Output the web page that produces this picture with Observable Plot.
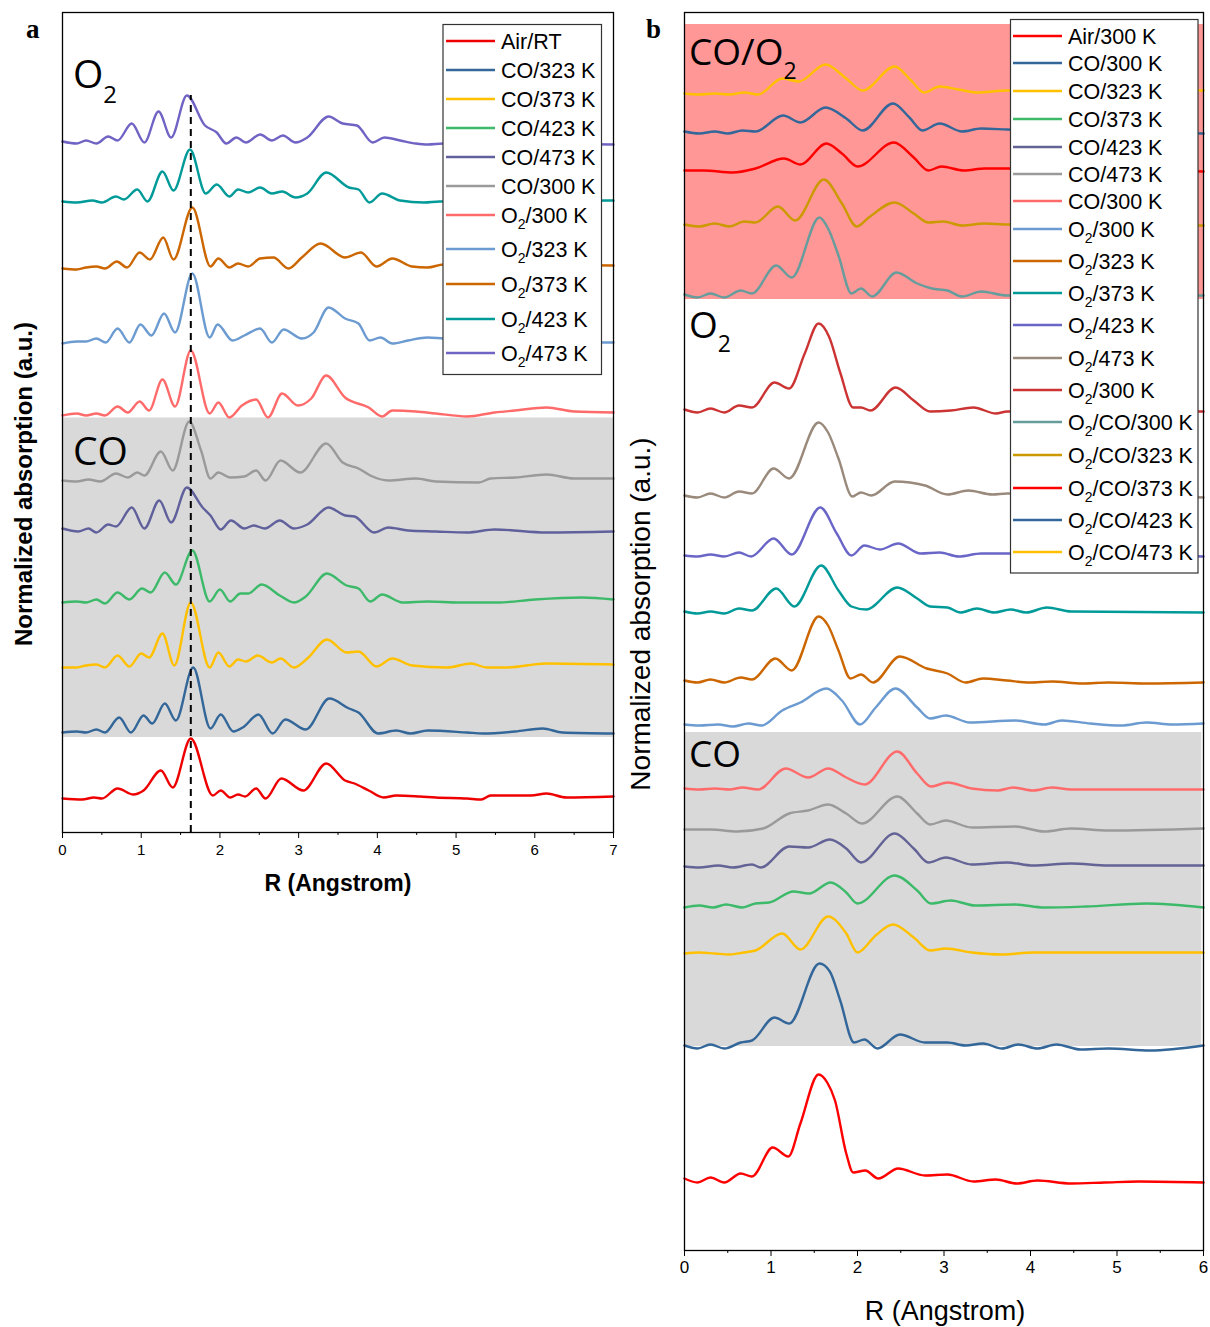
<!DOCTYPE html>
<html><head><meta charset="utf-8">
<script src="https://cdn.jsdelivr.net/npm/d3@7"></script>
<script src="https://cdn.jsdelivr.net/npm/@observablehq/plot@0.6"></script>
<style>
body{margin:0;background:#fff;}
#page{position:relative;width:1210px;height:1327px;overflow:hidden;background:#fff;}
#page svg{position:absolute;top:0;}
</style></head><body><div id="page"></div>
<script>
// ---------- Panel a data (R in Å, normalized absorption a.u.) ----------
const aAirRT = [[0,34],[0.25,33],[0.40,35],[0.50,34],[0.70,44],[0.90,38],[1.03,42],[1.25,62],[1.40,45],[1.63,94],[1.91,37],[2.01,42],[2.13,35],[2.23,38],[2.32,36],[2.46,44],[2.58,34],[2.78,54],[3.06,42],[3.35,69],[3.59,52],[3.71,49],[3.89,42],[4.08,35],[4.24,37],[4.54,36],[4.74,35],[5.14,34],[5.32,33],[5.44,37],[5.95,37],[6.15,39],[6.40,35],[7,36]];
const aCO323 = [[0,100],[0.18,101],[0.30,100],[0.43,103],[0.54,100],[0.72,115],[0.87,100],[1.03,117],[1.14,109],[1.30,129],[1.44,112],[1.66,165],[1.88,104],[2.01,118],[2.17,101],[2.29,105],[2.49,118],[2.67,99],[2.83,113],[3.09,103],[3.39,134],[3.64,124],[3.76,120],[4.01,99],[4.24,102],[4.42,99],[4.64,102],[5.14,100],[5.34,99],[5.75,101],[6.10,104],[6.35,100],[7,99]];
const aCO373 = [[0,165],[0.18,165],[0.30,167],[0.43,168],[0.54,165],[0.70,177],[0.85,166],[1.00,179],[1.10,175],[1.27,199],[1.42,167],[1.63,230],[1.87,165],[1.98,180],[2.12,166],[2.23,173],[2.33,171],[2.48,177],[2.66,170],[2.77,174],[2.94,165],[3.11,174],[3.36,193],[3.61,180],[3.76,181],[3.99,166],[4.19,174],[4.44,167],[4.89,165],[5.19,169],[5.39,165],[5.64,165],[6.15,169],[7,168]];
const aCO423 = [[0,230],[0.18,231],[0.30,230],[0.43,233],[0.54,229],[0.70,240],[0.85,233],[1.01,244],[1.12,240],[1.30,260],[1.44,248],[1.65,282],[1.87,231],[2.00,243],[2.13,231],[2.26,239],[2.36,239],[2.53,248],[2.76,237],[2.94,230],[3.09,236],[3.36,259],[3.61,247],[3.76,244],[3.91,231],[4.06,238],[4.32,230],[4.64,231],[5.04,230],[5.54,230],[6.00,233],[6.60,235],[7,233]];
const aCO473 = [[0,304],[0.20,301],[0.33,304],[0.43,300],[0.58,308],[0.68,306],[0.88,325],[1.04,304],[1.23,332],[1.38,310],[1.58,345],[1.78,325],[1.88,317],[2.01,303],[2.14,312],[2.31,304],[2.43,307],[2.57,304],[2.76,312],[2.94,304],[3.11,308],[3.38,325],[3.59,317],[3.71,316],[3.96,300],[4.14,305],[4.39,302],[4.74,301],[5.14,300],[5.49,303],[6.15,300],[7,301]];
const aCO300 = [[0,352],[0.18,351],[0.33,353],[0.48,351],[0.68,359],[0.83,355],[0.95,360],[1.04,357],[1.25,381],[1.40,362],[1.61,411],[1.76,382],[1.88,354],[1.98,360],[2.13,355],[2.31,356],[2.46,362],[2.58,352],[2.77,372],[3.02,360],[3.35,389],[3.56,370],[3.76,364],[3.91,357],[4.14,352],[4.49,354],[4.74,351],[5.29,350],[5.44,354],[5.75,355],[6.15,358],[6.50,354],[7,354]];
const aO2300 = [[0,417],[0.18,419],[0.30,417],[0.43,419],[0.54,417],[0.70,426],[0.83,420],[0.98,431],[1.10,422],[1.27,453],[1.43,426],[1.63,482],[1.87,419],[1.98,430],[2.12,415],[2.28,427],[2.46,433],[2.61,415],[2.79,439],[2.99,427],[3.16,434],[3.35,457],[3.59,435],[3.89,425],[4.06,416],[4.19,422],[4.49,421],[4.74,419],[5.14,416],[5.49,420],[5.75,422],[6.15,425],[6.50,421],[7,420]];
const aO2323 = [[0,489],[0.18,491],[0.30,491],[0.43,494],[0.55,490],[0.70,504],[0.85,490],[0.99,508],[1.13,497],[1.29,519],[1.43,500],[1.65,559],[1.87,495],[1.97,508],[2.16,492],[2.31,497],[2.51,504],[2.66,490],[2.81,503],[3.04,494],[3.19,500],[3.38,525],[3.59,514],[3.76,509],[3.90,492],[4.04,495],[4.19,489],[4.39,492],[4.64,495],[4.84,494],[7,490]];
const aO2373 = [[0,564],[0.18,563],[0.30,565],[0.43,566],[0.54,564],[0.69,571],[0.82,565],[0.98,580],[1.11,573],[1.28,595],[1.41,573],[1.65,625],[1.88,566],[1.98,574],[2.12,565],[2.23,569],[2.36,566],[2.51,574],[2.68,575],[2.87,564],[3.04,575],[3.28,589],[3.59,575],[3.79,580],[3.99,566],[4.19,574],[4.44,566],[4.64,565],[4.84,568],[7,567]];
const aO2423 = [[0,631],[0.18,630],[0.38,632],[0.50,630],[0.68,636],[0.78,633],[0.95,643],[1.08,631],[1.27,661],[1.41,642],[1.62,683],[1.82,639],[1.96,648],[2.12,636],[2.23,643],[2.36,640],[2.51,645],[2.66,639],[2.79,641],[2.96,635],[3.11,639],[3.35,660],[3.64,645],[3.76,643],[3.90,630],[4.06,639],[4.29,632],[4.59,630],[4.79,631],[7,632]];
const aO2473 = [[0,691],[0.18,689],[0.30,692],[0.43,689],[0.58,696],[0.70,692],[0.88,709],[1.04,690],[1.22,721],[1.38,695],[1.58,737],[1.81,707],[1.96,700],[2.08,689],[2.21,695],[2.33,690],[2.51,698],[2.66,692],[2.80,697],[2.96,690],[3.11,695],[3.38,716],[3.56,709],[3.74,707],[3.94,690],[4.09,695],[4.29,692],[4.49,689],[4.64,688],[4.84,689],[7,688]];

const legendA = ["Air/RT","CO/323 K","CO/373 K","CO/423 K","CO/473 K","CO/300 K","O2/300 K","O2/323 K","O2/373 K","O2/423 K","O2/473 K"];
const seriesA = [aAirRT,aCO323,aCO373,aCO423,aCO473,aCO300,aO2300,aO2323,aO2373,aO2423,aO2473];
const refLineA = [{x:1.63, y1:0, y2:737}];
const shadeA = [{x1:0, x2:7, y1:95, y2:414.5}];
const ticksA = [0,1,2,3,4,5,6,7];
const minorTicksA = [0.5,1.5,2.5,3.5,4.5,5.5,6.5];

// ---------- Panel b data ----------
const bAir300 = [[0,72],[0.15,68],[0.30,73],[0.46,68],[0.65,77],[0.78,74],[1.02,103],[1.20,94],[1.34,127],[1.55,176],[1.65,168],[1.74,150],[1.87,97],[1.95,78],[2.09,80],[2.24,72],[2.47,82],[2.78,75],[3.04,76],[3.34,69],[3.60,71],[3.84,67],[4.08,70],[4.47,67],[4.86,68],[5.25,69],[6,68]];
const bCO300 = [[0,205],[0.15,202],[0.30,206],[0.46,202],[0.65,208],[0.78,210],[1.04,233],[1.21,227],[1.56,287],[1.68,279],[1.80,250],[1.96,208],[2.08,211],[2.23,202],[2.49,216],[2.78,208],[3.04,208],[3.25,205],[3.45,207],[3.67,202],[3.86,206],[4.08,202],[4.30,206],[4.58,201],[4.90,202],[5.38,200],[6,205]];
const bCO323 = [[0,297],[0.17,298],[0.35,297],[0.52,296],[0.69,298],[0.82,300],[1.13,317],[1.34,301],[1.66,334],[1.87,317],[2.00,298],[2.21,315],[2.41,326],[2.65,313],[2.84,300],[3.02,302],[3.32,298],[3.67,296],[4.03,298],[4.69,298],[6,298]];
const bCO373 = [[0,343],[0.17,345],[0.33,343],[0.48,346],[0.67,343],[0.82,347],[0.98,348],[1.26,359],[1.44,357],[1.69,368],[1.87,358],[2.00,347],[2.43,375],[2.69,360],[2.85,347],[3.08,350],[3.36,345],[3.82,346],[4.16,343],[4.64,344],[5.34,347],[6,343]];
const bCO423 = [[0,384],[0.17,383],[0.39,385],[0.56,383],[0.78,386],[0.88,383],[1.21,404],[1.43,403],[1.68,411],[1.87,402],[2.04,388],[2.43,417],[2.65,402],[2.82,388],[3.02,393],[3.32,386],[3.73,388],[4.03,385],[4.47,387],[4.90,385],[6,385]];
const bCO473 = [[0,421],[0.30,421],[0.61,419],[0.91,422],[1.21,437],[1.43,440],[1.66,446],[1.87,437],[2.05,427],[2.46,454],[2.69,437],[2.84,426],[3.02,430],[3.32,423],[3.82,424],[4.16,419],[4.47,422],[4.90,420],[6,422]];
const bCO300b = [[0,462],[0.17,461],[0.35,462],[0.52,461],[0.67,463],[0.85,461],[1.17,482],[1.43,473],[1.66,482],[1.87,473],[2.08,466],[2.46,499],[2.69,477],[2.85,464],[3.04,468],[3.32,462],[3.62,460],[3.80,463],[4.03,460],[4.25,463],[4.47,461],[6,461]];
const bO2300 = [[0,526],[0.17,525],[0.39,526],[0.56,524],[0.74,527],[0.89,525],[1.13,540],[1.34,548],[1.64,562],[1.82,550],[2.03,526],[2.21,543],[2.44,562],[2.69,543],[2.84,532],[3.02,535],[3.30,528],[3.82,530],[4.16,526],[4.36,530],[4.69,527],[5.05,525],[5.34,528],[5.64,526],[6,527]];
const bO2323 = [[0,570],[0.15,568],[0.30,571],[0.46,568],[0.65,573],[0.78,571],[1.05,592],[1.24,580],[1.55,634],[1.66,625],[1.78,600],[1.92,572],[2.04,576],[2.18,568],[2.49,594],[2.80,582],[3.04,577],[3.25,568],[3.45,572],[3.73,570],[3.99,568],[4.25,569],[4.60,567],[4.90,568],[5.34,567],[6,568]];
const bO2373 = [[0,639],[0.15,637],[0.30,639],[0.46,637],[0.63,642],[0.78,640],[1.06,662],[1.27,644],[1.58,685],[1.78,660],[1.93,644],[2.10,641],[2.46,663],[2.69,652],[2.84,644],[3.04,643],[3.19,638],[3.38,642],[3.58,638],[3.77,641],[3.95,638],[4.19,643],[4.47,639],[6,638]];
const bO2423 = [[0,695],[0.15,694],[0.30,696],[0.46,694],[0.63,698],[0.77,694],[1.03,712],[1.24,696],[1.57,743],[1.76,717],[1.93,695],[2.08,705],[2.26,701],[2.47,707],[2.73,697],[2.95,698],[3.17,694],[3.43,697],[3.73,697],[6,694]];
const bO2473 = [[0,755],[0.15,753],[0.30,757],[0.46,753],[0.63,759],[0.78,757],[1.03,782],[1.21,772],[1.55,828],[1.66,818],[1.78,792],[1.94,754],[2.04,758],[2.16,755],[2.43,769],[2.78,765],[3.04,756],[3.28,760],[3.56,756],[3.73,757],[6,753]];
const bO2300b = [[0,841],[0.15,838],[0.30,842],[0.46,838],[0.63,845],[0.78,843],[1.04,868],[1.21,862],[1.39,897],[1.55,927],[1.67,914],[1.80,878],[1.95,843],[2.04,843],[2.15,840],[2.44,863],[2.65,850],[2.84,839],[3.08,840],[3.34,843],[3.60,837],[3.73,839],[6,839]];
const bO2CO300 = [[0,956],[0.15,953],[0.30,957],[0.46,953],[0.65,960],[0.78,957],[1.06,985],[1.24,973],[1.56,1033],[1.66,1022],[1.78,995],[1.93,957],[2.04,962],[2.17,954],[2.45,978],[2.69,967],[2.86,962],[3.04,960],[3.21,954],[3.43,959],[3.73,955],[6,955]];
const bO2CO323 = [[0,1026],[0.17,1024],[0.35,1027],[0.52,1024],[0.69,1029],[0.82,1028],[1.08,1044],[1.28,1030],[1.61,1071],[1.82,1047],[1.99,1024],[2.13,1033],[2.43,1048],[2.65,1037],[2.82,1028],[2.99,1029],[3.21,1025],[3.47,1027],[3.73,1026],[6,1025]];
const bO2CO373 = [[0,1080],[0.22,1080],[0.56,1078],[0.82,1082],[1.15,1092],[1.34,1086],[1.64,1107],[1.82,1097],[2.00,1084],[2.42,1108],[2.65,1093],[2.82,1080],[2.97,1084],[3.23,1080],[3.47,1082],[3.73,1082],[6,1079]];
const bO2CO423 = [[0,1119],[0.17,1117],[0.35,1119],[0.50,1117],[0.67,1120],[0.82,1119],[1.14,1135],[1.34,1128],[1.63,1143],[1.87,1132],[2.06,1120],[2.41,1147],[2.60,1133],[2.75,1120],[2.95,1127],[3.21,1119],[3.43,1122],[3.73,1121],[6,1117]];
const bO2CO473 = [[0,1157],[0.17,1156],[0.35,1157],[0.52,1156],[0.69,1158],[0.85,1156],[1.13,1172],[1.32,1169],[1.63,1186],[1.87,1172],[2.06,1160],[2.43,1184],[2.62,1170],[2.77,1158],[2.95,1164],[3.17,1161],[3.38,1158],[3.73,1160],[6,1160]];

const legendB = ["Air/300 K","CO/300 K","CO/323 K","CO/373 K","CO/423 K","CO/473 K","CO/300 K","O2/300 K","O2/323 K","O2/373 K","O2/423 K","O2/473 K","O2/300 K","O2/CO/300 K","O2/CO/323 K","O2/CO/373 K","O2/CO/423 K","O2/CO/473 K"];
const seriesB = [bAir300,bCO300,bCO323,bCO373,bCO423,bCO473,bCO300b,bO2300,bO2323,bO2373,bO2423,bO2473,bO2300b,bO2CO300,bO2CO323,bO2CO373,bO2CO423,bO2CO473];
const shadeB = [{x1:0.012, x2:6, y1:951, y2:1226, c:"pink"},{x1:0.012, x2:5.98, y1:204, y2:518, c:"gray"}];
const ticksB = [0,1,2,3,4,5,6];
const minorTicksB = [0.5,1.5,2.5,3.5,4.5,5.5];

// ---------- styles ----------
const colorsA = ["#ee0000","#336699","#ffc000","#3cba6a","#60609c","#9a9a9a","#ff6b6b","#6b9bd0","#cc6600","#009a99","#6f64c4"];
const colorsB = ["#ff0000","#336699","#ffc000","#3cba6a","#636396","#9a9a9a","#ff6b6b","#6b9bd0","#cc6600","#009a99","#6a66c8","#9a8a7c","#cc3333","#669c9c","#cc9900","#ff0000","#336699","#ffc000"];

function rows(series, colors) {
  return series.flatMap((pts, i) => pts.map(([x, y]) => ({k: i, x, y, c: colors[i]})));
}

const page = document.getElementById("page");

const plotA = Plot.plot({
  width: 620, height: 900,
  marginLeft: 62, marginRight: 7, marginTop: 12, marginBottom: 68,
  x: {domain: [0, 7], label: null},
  y: {domain: [0, 820], axis: null},
  color: {type: "identity"},
  style: {fontFamily: "'Liberation Sans', Arial, sans-serif", background: "transparent", color: "black"},
  marks: [
    Plot.rect(shadeA, {x1: "x1", x2: "x2", y1: "y1", y2: "y2", fill: "#d9d9d9"}),
    Plot.line(rows(seriesA, colorsA), {x: "x", y: "y", z: "k", stroke: "c", strokeWidth: 2.4, curve: "monotone-x"}),
    Plot.ruleX(refLineA, {x: "x", y1: "y1", y2: "y2", stroke: "black", strokeWidth: 2, strokeDasharray: "7,5"}),
    Plot.axisX({ticks: minorTicksA, tickSize: 3, tickFormat: () => "", label: null}),
    Plot.axisX({ticks: ticksA, tickSize: 6, tickPadding: 6, fontSize: 15, tickFormat: d => String(d), label: null}),
    Plot.frame({stroke: "black", strokeWidth: 1.3})
  ]
});
plotA.style.left = "0px";
page.appendChild(plotA);

const plotB = Plot.plot({
  width: 590, height: 1327,
  marginLeft: 64, marginRight: 7, marginTop: 12, marginBottom: 77,
  x: {domain: [0, 6], label: null},
  y: {domain: [0, 1238], axis: null},
  color: {type: "identity"},
  style: {fontFamily: "'Liberation Sans', Arial, sans-serif", background: "transparent", color: "black"},
  marks: [
    Plot.rect(shadeB, {x1: "x1", x2: "x2", y1: "y1", y2: "y2", fill: d => d.c === "pink" ? "#ff9797" : "#d9d9d9"}),
    Plot.line(rows(seriesB, colorsB), {x: "x", y: "y", z: "k", stroke: "c", strokeWidth: 2.4, curve: "monotone-x"}),
    Plot.axisX({ticks: minorTicksB, tickSize: 3, tickFormat: () => "", label: null}),
    Plot.axisX({ticks: ticksB, tickSize: 6, tickPadding: 4, fontSize: 17, tickFormat: d => String(d), label: null}),
    Plot.frame({stroke: "black", strokeWidth: 1.3})
  ]
});
plotB.style.left = "620px";
page.appendChild(plotB);

// ---------- overlay texts & legends ----------
const ov = d3.select(page).append("svg")
  .attr("width", 1210).attr("height", 1327)
  .style("left", "0px").style("top", "0px")
  .style("font-family", "'Liberation Sans', Arial, sans-serif");

function rich(x, y, str, size, subSize, subDy, attrs = {}) {
  const t = ov.append("text").attr("x", x).attr("y", y).attr("font-size", size).attr("fill", "black");
  for (const [k, v] of Object.entries(attrs)) t.attr(k, v);
  const segs = [];
  for (let i = 0; i < str.length; i++) {
    const sub = str[i] === "2" && i > 0 && str[i - 1] === "O";
    const last = segs[segs.length - 1];
    if (last && last.sub === sub) last.t += str[i];
    else segs.push({t: str[i], sub});
  }
  let prevSub = false;
  for (const s of segs) {
    const sp = t.append("tspan").text(s.t).attr("font-size", s.sub ? subSize : size);
    if (s.sub) sp.attr("dy", subDy);
    else if (prevSub) sp.attr("dy", -subDy);
    prevSub = s.sub;
  }
  return t;
}

// panel letters
ov.append("text").attr("x", 26).attr("y", 38).text("a")
  .attr("font-family", "'Liberation Serif', 'Times New Roman', serif").attr("font-weight", "bold").attr("font-size", 27);
ov.append("text").attr("x", 646).attr("y", 38).text("b")
  .attr("font-family", "'Liberation Serif', 'Times New Roman', serif").attr("font-weight", "bold").attr("font-size", 27);

// region labels
const regionFont = {"font-family": "'Open Sans', 'Noto Sans', sans-serif"};
rich(73, 88, "O2", 39, 24, 15, regionFont);
rich(73, 465, "CO", 39, 24, 15, regionFont);
rich(689, 65, "CO/O2", 37, 23, 14, regionFont);
rich(689, 338, "O2", 37, 23, 14, regionFont);
rich(689, 767, "CO", 37, 23, 14, regionFont);

// axis titles
ov.append("text").attr("x", 338).attr("y", 891).attr("text-anchor", "middle")
  .attr("font-weight", "bold").attr("font-size", 23).text("R (Angstrom)");
ov.append("text").attr("transform", "translate(32,484) rotate(-90)").attr("text-anchor", "middle")
  .attr("font-weight", "bold").attr("font-size", 24).text("Normalized absorption (a.u.)");
ov.append("text").attr("x", 945).attr("y", 1320).attr("text-anchor", "middle")
  .attr("font-size", 27).text("R (Angstrom)");
ov.append("text").attr("transform", "translate(650,614) rotate(-90)").attr("text-anchor", "middle")
  .attr("font-size", 28).text("Normalized absorption (a.u.)");

// legends
function legend(box, labels, colors, ys, lineX1, lineX2, textX) {
  ov.append("rect").attr("x", box[0]).attr("y", box[1]).attr("width", box[2] - box[0]).attr("height", box[3] - box[1])
    .attr("fill", "white").attr("stroke", "#333").attr("stroke-width", 1.2);
  labels.forEach((lab, i) => {
    ov.append("line").attr("x1", lineX1).attr("x2", lineX2).attr("y1", ys[i]).attr("y2", ys[i])
      .attr("stroke", colors[i]).attr("stroke-width", 2.6);
    rich(textX, ys[i] + 8, lab, 21.5, 14, 6);
  });
}
legend([443, 24.5, 601.5, 374.5], legendA, colorsA, [41,70,99,128,157,186,215,249,284,319,353], 446, 495, 501);
legend([1010.5, 19.5, 1198, 573], legendB, colorsB, [36,63,91,119,147,174,201,229,261,293,325,358,390,422,455,488,520,552], 1013, 1062, 1068);
</script></body></html>
